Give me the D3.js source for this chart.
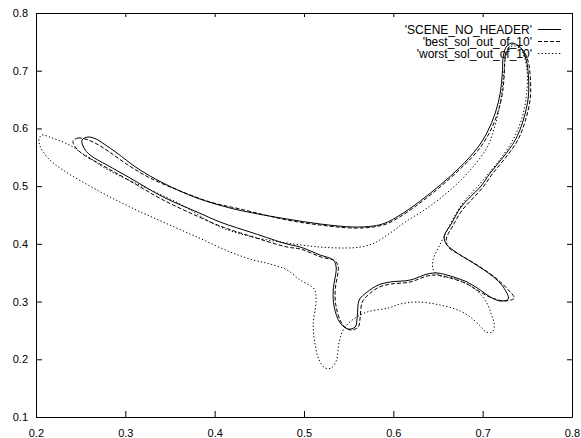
<!DOCTYPE html>
<html>
<head>
<meta charset="utf-8">
<script src="https://cdn.jsdelivr.net/npm/d3@7"></script>
<style>
  html, body { margin: 0; padding: 0; background: #fff; }
  svg { display: block; }
  text { font-family: "Liberation Sans", Arial, Helvetica, sans-serif; fill: #000; }
</style>
</head>
<body>
<svg id="chart" width="581" height="438"></svg>
<script>
// Closed outlines, [x, y] in data units.
const sceneNoHeader = [
  [0.2582,0.5851],[0.2672,0.5817],[0.2762,0.5730],[0.2907,0.5574],[0.3131,0.5314],
  [0.3423,0.5054],[0.3803,0.4794],[0.4173,0.4621],[0.4431,0.4534],[0.4811,0.4430],
  [0.5181,0.4344],[0.5551,0.4292],[0.5775,0.4309],[0.5909,0.4361],[0.6077,0.4500],
  [0.6301,0.4742],[0.6525,0.5020],[0.6749,0.5331],[0.6940,0.5661],[0.7052,0.5938],
  [0.7141,0.6267],[0.7197,0.6614],[0.7220,0.6960],[0.7231,0.7255],[0.7264,0.7411],
  [0.7320,0.7480],[0.7388,0.7445],[0.7444,0.7359],[0.7488,0.7186],[0.7511,0.6926],
  [0.7511,0.6544],[0.7455,0.6146],[0.7365,0.5799],[0.7231,0.5505],[0.7085,0.5228],
  [0.6973,0.4985],[0.6861,0.4812],[0.6749,0.4621],[0.6648,0.4344],[0.6570,0.4136],
  [0.6592,0.3997],[0.6716,0.3841],[0.6895,0.3668],[0.7108,0.3443],[0.7231,0.3252],
  [0.7287,0.3044],[0.7197,0.3010],[0.7085,0.3079],[0.6973,0.3200],[0.6827,0.3339],
  [0.6637,0.3443],[0.6491,0.3495],[0.6379,0.3477],[0.6189,0.3373],[0.5965,0.3339],
  [0.5831,0.3287],[0.5707,0.3165],[0.5618,0.3027],[0.5596,0.2732],[0.5573,0.2559],
  [0.5495,0.2524],[0.5405,0.2628],[0.5338,0.2906],[0.5327,0.3200],[0.5360,0.3599],
  [0.5327,0.3720],[0.5181,0.3807],[0.4957,0.3945],[0.4811,0.3997],[0.4431,0.4188],
  [0.4061,0.4378],[0.3803,0.4552],[0.3423,0.4812],[0.3053,0.5141],[0.2795,0.5366],
  [0.2605,0.5539],[0.2538,0.5661],[0.2515,0.5799]
];

const bestSolOutOf10 = [
  [0.2414,0.5782],[0.2470,0.5834],[0.2549,0.5817],[0.2661,0.5747],[0.2806,0.5609],
  [0.3030,0.5366],[0.3277,0.5141],[0.3613,0.4916],[0.3949,0.4725],[0.4285,0.4604],
  [0.4811,0.4413],[0.5181,0.4326],[0.5551,0.4274],[0.5775,0.4292],[0.5920,0.4344],
  [0.6088,0.4482],[0.6312,0.4725],[0.6536,0.5002],[0.6760,0.5314],[0.6951,0.5626],
  [0.7074,0.5921],[0.7164,0.6250],[0.7220,0.6596],[0.7242,0.6943],[0.7253,0.7238],
  [0.7287,0.7394],[0.7332,0.7463],[0.7399,0.7428],[0.7466,0.7324],[0.7511,0.7151],
  [0.7533,0.6891],[0.7533,0.6527],[0.7477,0.6129],[0.7388,0.5782],[0.7253,0.5487],
  [0.7108,0.5210],[0.6996,0.4968],[0.6884,0.4777],[0.6772,0.4586],[0.6671,0.4326],
  [0.6593,0.4084],[0.6615,0.3945],[0.6749,0.3807],[0.6973,0.3599],[0.7175,0.3373],
  [0.7287,0.3200],[0.7354,0.3061],[0.7253,0.3010],[0.7108,0.3061],[0.6973,0.3165],
  [0.6827,0.3304],[0.6637,0.3408],[0.6491,0.3460],[0.6379,0.3443],[0.6189,0.3339],
  [0.5976,0.3304],[0.5842,0.3252],[0.5730,0.3131],[0.5652,0.2992],[0.5629,0.2732],
  [0.5607,0.2559],[0.5517,0.2507],[0.5428,0.2611],[0.5360,0.2906],[0.5349,0.3200],
  [0.5383,0.3599],[0.5349,0.3703],[0.5192,0.3772],[0.4957,0.3911],[0.4811,0.3945],
  [0.4431,0.4118],[0.4061,0.4309],[0.3803,0.4482],[0.3423,0.4760],[0.3053,0.5089],
  [0.2717,0.5383],[0.2538,0.5539],[0.2448,0.5661]
];

const worstSolOutOf10 = [
  [0.2067,0.5886],[0.2179,0.5834],[0.2302,0.5765],[0.2414,0.5678],[0.2493,0.5591],
  [0.2605,0.5487],[0.2750,0.5331],[0.2941,0.5176],[0.3232,0.4968],[0.3613,0.4690],
  [0.4061,0.4292],[0.4431,0.4118],[0.4811,0.4014],[0.5181,0.3945],[0.5461,0.3928],
  [0.5629,0.3945],[0.5786,0.4014],[0.5965,0.4188],[0.6133,0.4378],[0.6379,0.4621],
  [0.6637,0.4933],[0.6861,0.5279],[0.7052,0.5678],[0.7130,0.6007],[0.7186,0.6354],
  [0.7220,0.6700],[0.7242,0.7047],[0.7264,0.7290],[0.7309,0.7411],[0.7365,0.7428],
  [0.7433,0.7359],[0.7477,0.7186],[0.7500,0.6926],[0.7488,0.6544],[0.7433,0.6146],
  [0.7332,0.5782],[0.7197,0.5470],[0.7052,0.5193],[0.6928,0.4968],[0.6805,0.4760],
  [0.6693,0.4500],[0.6593,0.4205],[0.6514,0.3962],[0.6447,0.3737],[0.6447,0.3547],
  [0.6525,0.3443],[0.6659,0.3408],[0.6805,0.3321],[0.6940,0.3183],[0.7040,0.2992],
  [0.7096,0.2784],[0.7130,0.2594],[0.7108,0.2472],[0.7040,0.2472],[0.6973,0.2576],
  [0.6861,0.2732],[0.6749,0.2836],[0.6525,0.2940],[0.6268,0.2992],[0.6077,0.2958],
  [0.5943,0.2888],[0.5707,0.2819],[0.5539,0.2680],[0.5439,0.2507],[0.5394,0.2299],
  [0.5360,0.1970],[0.5304,0.1849],[0.5237,0.1849],[0.5170,0.1987],[0.5125,0.2247],
  [0.5103,0.2594],[0.5136,0.3027],[0.5114,0.3217],[0.4957,0.3373],[0.4811,0.3547],
  [0.4621,0.3651],[0.4431,0.3720],[0.4173,0.3859],[0.3803,0.4118],[0.3423,0.4378],
  [0.3053,0.4638],[0.2683,0.4933],[0.2302,0.5279],[0.2134,0.5487],[0.2045,0.5695],
  [0.2034,0.5817]
];

const seriesNames = ["'SCENE_NO_HEADER'", "'best_sol_out_of_10'", "'worst_sol_out_of_10'"];
const xTicks = [0.2, 0.3, 0.4, 0.5, 0.6, 0.7, 0.8];
const yTicks = [0.1, 0.2, 0.3, 0.4, 0.5, 0.6, 0.7, 0.8];

const svg = d3.select("#chart");
const plotLeft = 36, plotRight = 572, plotTop = 13, plotBottom = 417;

const x = d3.scaleLinear().domain([0.2, 0.8]).range([plotLeft, plotRight]);
const y = d3.scaleLinear().domain([0.1, 0.8]).range([plotBottom, plotTop]);
const fmt = d3.format(".1f");

// Axes with inward ticks on all four sides
const axisStyle = g => {
  g.selectAll("path.domain").attr("stroke", "#000").attr("stroke-width", 1);
  g.selectAll(".tick line").attr("stroke", "#000").attr("stroke-width", 1);
  g.selectAll("text").style("font-family", '"Liberation Sans", Arial, sans-serif')
    .style("font-size", "11px").attr("fill", "#000");
};

svg.append("g").attr("transform", `translate(0,${plotBottom})`)
  .call(d3.axisBottom(x).tickValues(xTicks).tickFormat(fmt).tickSizeInner(-6).tickSizeOuter(0).tickPadding(12))
  .call(axisStyle);
svg.append("g").attr("transform", `translate(${plotLeft},0)`)
  .call(d3.axisLeft(y).tickValues(yTicks).tickFormat(fmt).tickSizeInner(-6).tickSizeOuter(0).tickPadding(8))
  .call(axisStyle);
svg.append("g").attr("transform", `translate(0,${plotTop})`)
  .call(d3.axisTop(x).tickValues(xTicks).tickFormat("").tickSizeInner(-4).tickSizeOuter(0))
  .call(axisStyle);
svg.append("g").attr("transform", `translate(${plotRight},0)`)
  .call(d3.axisRight(y).tickValues(yTicks).tickFormat("").tickSizeInner(-5).tickSizeOuter(0))
  .call(axisStyle);

// Outlines
const line = d3.line()
  .x(d => x(d[0]))
  .y(d => y(d[1]))
  .curve(d3.curveCatmullRomClosed.alpha(0.5));

const styles = [
  { dash: null },
  { dash: "4,2" },
  { dash: "1.3,2.2" }
];
const series = [sceneNoHeader, bestSolOutOf10, worstSolOutOf10];

series.forEach((pts, i) => {
  svg.append("path")
    .datum(pts)
    .attr("d", line)
    .attr("fill", "none")
    .attr("stroke", "#000")
    .attr("stroke-width", 1)
    .attr("stroke-dasharray", styles[i].dash);
});

// Legend
const legend = svg.append("g");
seriesNames.forEach((name, i) => {
  const cy = 29.5 + i * 12;
  legend.append("text")
    .attr("x", 532).attr("y", cy + 4.3)
    .attr("text-anchor", "end")
    .style("font-size", "12px")
    .text(name);
  legend.append("line")
    .attr("x1", 538).attr("x2", 561)
    .attr("y1", cy).attr("y2", cy)
    .attr("stroke", "#000").attr("stroke-width", 1)
    .attr("stroke-dasharray", styles[i].dash);
});
</script>
</body>
</html>
